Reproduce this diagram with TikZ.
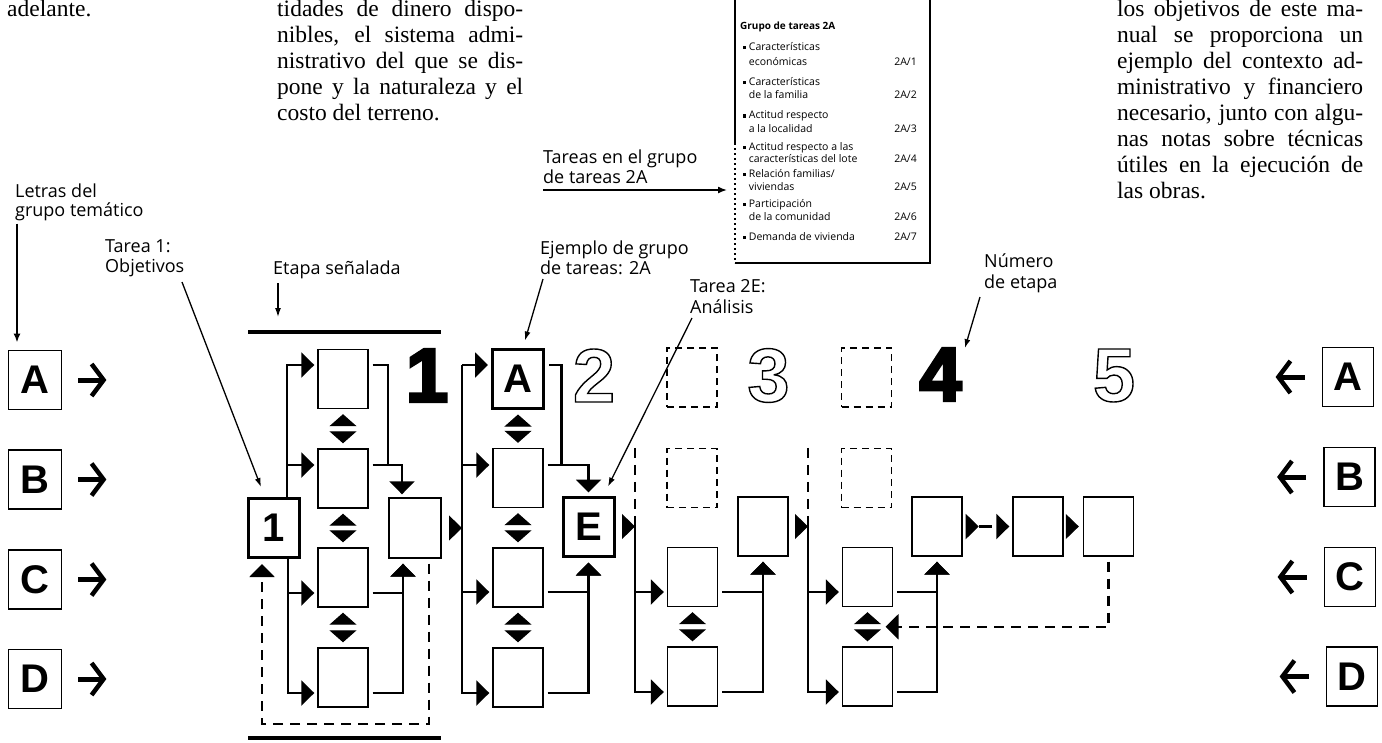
\documentclass[tikz,border=0pt]{standalone}
\usepackage{fontspec}
\setmainfont{Liberation Serif}
\setsansfont{Open Sans}
\newfontfamily\lsans{Liberation Sans}
\usetikzlibrary{arrows.meta,calc}
\newcommand\heavytxt[1]{\special{pdf:literal direct 2 Tr 3 w}#1\special{pdf:literal direct 0 Tr}}
\newcommand\hollowtxt[1]{\special{pdf:literal direct 1 Tr 1.4 w}#1\special{pdf:literal direct 0 Tr}}
\newcommand\jl[1]{\hbox to 246pt{#1}}
\newcommand\bul{\rule[1pt]{3.2pt}{3.2pt}\hspace{2.5pt}}
\begin{document}
\begin{tikzpicture}[x=1pt,y=-1pt,
  body/.style={inner sep=0pt, anchor=base west, font=\fontsize{23.5}{26}\selectfont},
  lbl/.style={inner sep=0pt, anchor=base west, font=\sffamily\fontsize{18}{20}\selectfont},
  ins/.style={inner sep=0pt, anchor=base west, font=\sffamily\fontsize{10.5}{12}\selectfont},
  insnum/.style={ins, anchor=base east},
  cbox/.style={draw, line width=1.4pt, minimum width=50pt, minimum height=59pt, inner sep=0pt, font=\lsans\bfseries\fontsize{40}{40}\selectfont},
  tbox/.style={cbox, line width=3pt, minimum width=51pt},
  dbox/.style={cbox, line width=1.5pt, dash pattern=on 7pt off 5pt},
  lbox/.style={cbox, line width=1.8pt, minimum width=53pt},
  conn/.style={line width=2.2pt},
  dconn/.style={line width=2.2pt, dash pattern=on 10pt off 7pt},
  tri/.tip={Triangle[length=13pt,width=25pt]},
  arrowonly/.style={draw=white, line width=1pt, -{Triangle[length=13pt,width=25pt,color=black,fill=black]}},
  dbl/.style={draw=white, line width=1pt, {Triangle[length=12pt,width=27pt,color=black,fill=black]}-{Triangle[length=12pt,width=27pt,color=black,fill=black]}, shorten <=5pt, shorten >=5pt},
  leader/.style={line width=1.3pt, -{Latex[length=9pt,width=6pt]}},
  letarr/.style={line width=5pt, line cap=butt, -{Straight Barb[length=12pt,width=32pt,line width=4.5pt]}},
  bignum/.style={inner sep=0pt, font=\lsans\bfseries\fontsize{76}{76}\selectfont}
]
\fill[white] (0,0) rectangle (1382,742);
\useasboundingbox (0,0) rectangle (1382,742);

% ---------- body text ----------
\node[body] (p0) at (7,16) {adelante.};
\node[body] (p1) at (277,16) {\parbox[t]{246pt}{\fontsize{23.5}{26}\selectfont
\jl{tidades de dinero dispo-}
\jl{nibles, el sistema admi-}
\jl{nistrativo del que se dis-}
\jl{pone y la naturaleza y el}
\hbox{costo del terreno.}}};
\node[body] (p2) at (1117,16) {\parbox[t]{246pt}{\fontsize{23.5}{26}\selectfont
\jl{los objetivos de este ma-}
\jl{nual se proporciona un}
\jl{ejemplo del contexto ad-}
\jl{ministrativo y financiero}
\jl{necesario, junto con algu-}
\jl{nas notas sobre técnicas}
\jl{útiles en la ejecución de}
\hbox{las obras.}}};

% ---------- inset ----------
\draw[line width=1.2pt] (735,0) -- (735,143);
\draw[line width=1.2pt, dash pattern=on 2pt off 3pt] (735,143) -- (735,263);
\draw[line width=1.2pt] (735,263) -- (930,263) -- (930,0);
\node[ins, font=\sffamily\bfseries\fontsize{10}{12}\selectfont] (i0) at (740,29) {Grupo de tareas 2A};
\node[ins] (i1a) at (743,50) {\bul Características};
\node[ins] (i1b) at (748.7,65) {económicas};
\node[insnum] (i1n) at (917,65) {2A/1};
\node[ins] (i2a) at (743,85) {\bul Características};
\node[ins] (i2b) at (748.7,98.5) {de la familia};
\node[insnum] (i2n) at (917,98.5) {2A/2};
\node[ins] (i3a) at (743,118.5) {\bul Actitud respecto};
\node[ins] (i3b) at (748.7,132) {a la localidad};
\node[insnum] (i3n) at (917,132) {2A/3};
\node[ins] (i4a) at (743,150) {\bul Actitud respecto a las};
\node[ins] (i4b) at (748.7,162) {características del lote};
\node[insnum] (i4n) at (917,162) {2A/4};
\node[ins] (i5a) at (743,177) {\bul Relación familias/};
\node[ins] (i5b) at (748.7,190) {viviendas};
\node[insnum] (i5n) at (917,190) {2A/5};
\node[ins] (i6a) at (743,207) {\bul Participación};
\node[ins] (i6b) at (748.7,220) {de la comunidad};
\node[insnum] (i6n) at (917,220) {2A/6};
\node[ins] (i7a) at (743,240) {\bul Demanda de vivienda};
\node[insnum] (i7n) at (917,240) {2A/7};

% ---------- letter boxes ----------
\node[lbox] (LA) at (35,380) {A};
\node[lbox] (LB) at (35,479.5) {B};
\node[lbox] (LC) at (35,579.5) {C};
\node[lbox] (LD) at (35,679) {D};
\foreach \n in {LA,LB,LC,LD} \draw[letarr] ([xshift=16pt]\n.east) -- ++(28,0);
\node[lbox, minimum width=51pt] (RA) at (1348,377) {A};
\node[lbox, minimum width=51pt] (RB) at (1349.5,477) {B};
\node[lbox, minimum width=51pt] (RC) at (1350,577) {C};
\node[lbox, minimum width=51pt] (RD) at (1352,676.5) {D};
\foreach \n in {RA,RB,RC,RD} \draw[letarr] ([xshift=-17pt]\n.west) -- ++(-29,0);

% ---------- stage 1 ----------
\draw[line width=4pt] (248,332) -- (441,332);
\draw[line width=4pt] (248,738) -- (441,738);
\node[tbox] (s1in) at (274,528) {1};
\node[cbox] (s1a) at (343,379) {};
\node[cbox] (s1b) at (343,478.5) {};
\node[cbox] (s1c) at (343,577.5) {};
\node[cbox] (s1d) at (343,677.5) {};
\node[cbox, minimum width=52pt, minimum height=60pt] (s1out) at (415,528) {};
\coordinate (s1aL) at ([yshift=14pt]s1a.west);  \coordinate (s1aR) at ([yshift=14pt]s1a.east);
\coordinate (s1bL) at ([yshift=13.5pt]s1b.west); \coordinate (s1bR) at ([yshift=13.5pt]s1b.east);
\coordinate (s1cL) at ([yshift=-15.5pt]s1c.west); \coordinate (s1cR) at ([yshift=-15.5pt]s1c.east);
\coordinate (s1dL) at ([yshift=-15.5pt]s1d.west); \coordinate (s1dR) at ([yshift=-15.5pt]s1d.east);
\coordinate (bus1) at ([xshift=13pt]s1in.north);
\coordinate (bus1s) at ([xshift=14pt]s1in.south);
\draw[conn,-{tri},shorten >=3pt] (bus1) |- (s1aL);
\draw[conn,-{tri},shorten >=3pt] (bus1) |- (s1bL);
\draw[conn,-{tri},shorten >=3pt] (bus1s) |- (s1cL);
\draw[conn,-{tri},shorten >=3pt] (bus1s) |- (s1dL);
\coordinate (j1) at ($(s1bR)+(19pt,0pt)$);
\draw[conn,shorten <=4pt] (s1aR) -| (j1);
\draw[conn,-{tri},shorten <=4pt,shorten >=3pt] (s1bR) -| ([xshift=-13pt]s1out.north);
\draw[conn,-{tri},shorten <=4pt,shorten >=5pt] (s1cR) -| ([xshift=-12pt]s1out.south);
\draw[conn,-{tri},shorten <=4pt,shorten >=5pt] (s1dR) -| ([xshift=-12pt]s1out.south);
\draw[dconn,-{tri},shorten <=5pt,shorten >=5pt] ([xshift=14pt]s1out.south) -- ++(0,165) -| ([xshift=-12pt]s1in.south);
\draw[dbl] (s1a.south) -- (s1b.north);
\draw[dbl] (s1b.south) -- (s1c.north);
\draw[dbl] (s1c.south) -- (s1d.north);
\node[bignum] (n1) at (427,375.5) {\heavytxt{1}};

% ---------- stage 2 ----------
\coordinate (bus2x) at (462,0);
\node[tbox] (s2a) at (518,378.5) {A};
\node[cbox] (s2b) at (518,478) {};
\node[cbox] (s2c) at (518,577.5) {};
\node[cbox] (s2d) at (518,677.5) {};
\node[tbox] (s2e) at (588.5,526.5) {E};
\coordinate (s2aL) at ([yshift=13.5pt]s2a.west);  \coordinate (s2aR) at ([yshift=13.5pt]s2a.east);
\coordinate (s2bL) at ([yshift=13pt]s2b.west);    \coordinate (s2bR) at ([yshift=13pt]s2b.east);
\coordinate (s2cL) at ([yshift=-14.5pt]s2c.west); \coordinate (s2cR) at ([yshift=-14.5pt]s2c.east);
\coordinate (s2dL) at ([yshift=-15.5pt]s2d.west); \coordinate (s2dR) at ([yshift=-15.5pt]s2d.east);
\draw[conn,-{tri},shorten >=3pt] (s2aL -| bus2x) -- (s2aL);
\draw[conn,-{tri},shorten >=3pt] (s2aL -| bus2x) |- (s2dL);
\draw[conn,-{tri},shorten >=3pt] (s2bL -| bus2x) -- (s2bL);
\draw[conn,-{tri},shorten >=3pt] (s2cL -| bus2x) -- (s2cL);
\draw[arrowonly,shorten <=4pt] (s1out.east) -- (s1out.east -| bus2x);
\draw[conn,shorten <=4pt] (s2aR) -| (s2e.west |- s2bR);
\draw[conn,-{tri},shorten <=4pt,shorten >=3pt] (s2bR) -| (s2e.north);
\draw[conn,-{tri},shorten <=4pt,shorten >=5pt] (s2cR) -| (s2e.south);
\draw[conn,-{tri},shorten <=4pt,shorten >=5pt] (s2dR) -| (s2e.south);
\draw[dbl] (s2a.south) -- (s2b.north);
\draw[dbl] (s2b.south) -- (s2c.north);
\draw[dbl] (s2c.south) -- (s2d.north);
\node[bignum] (n2) at (594,375.5) {\hollowtxt{2}};

% ---------- stage 3 ----------
\coordinate (bus3x) at (635,0);
\node[dbox] (s3x) at (692,377.5) {};
\node[dbox] (s3y) at (692,478) {};
\node[cbox] (s3c) at (692.5,577) {};
\node[cbox] (s3d) at (692.5,676.5) {};
\node[cbox] (s3out) at (763,526.5) {};
\coordinate (s3cL) at ([yshift=-15pt]s3c.west);   \coordinate (s3cR) at ([yshift=-15pt]s3c.east);
\coordinate (s3dL) at ([yshift=-15.5pt]s3d.west); \coordinate (s3dR) at ([yshift=-15.5pt]s3d.east);
\coordinate (b3t) at (bus3x |- s3y.north);
\coordinate (b3m) at (635,520);
\draw[arrowonly,shorten <=4pt] (s2e.east) -- (s2e.east -| bus3x);
\draw[dconn] (b3t) -- (b3m);
\draw[conn,-{tri},shorten >=3pt] (b3m) |- (s3dL);
\draw[conn,-{tri},shorten >=3pt] (s3cL -| bus3x) -- (s3cL);
\draw[conn,-{tri},shorten <=4pt,shorten >=5pt] (s3cR) -| (s3out.south);
\draw[conn,-{tri},shorten <=4pt,shorten >=5pt] (s3dR) -| (s3out.south);
\draw[dbl] (s3c.south) -- (s3d.north);
\node[bignum] (n3) at (768.5,375.5) {\hollowtxt{3}};

% ---------- stage 4 ----------
\coordinate (bus4x) at (808,0);
\node[dbox] (s4x) at (866.5,377.5) {};
\node[dbox] (s4y) at (866.5,478) {};
\node[cbox] (s4c) at (867.5,577) {};
\node[cbox] (s4d) at (867.5,676.5) {};
\node[cbox] (s4out) at (937,526.5) {};
\coordinate (s4cL) at ([yshift=-15pt]s4c.west);   \coordinate (s4cR) at ([yshift=-15pt]s4c.east);
\coordinate (s4dL) at ([yshift=-15.5pt]s4d.west); \coordinate (s4dR) at ([yshift=-15.5pt]s4d.east);
\coordinate (b4t) at (bus4x |- s4y.north);
\coordinate (b4m) at (808,520);
\draw[arrowonly,shorten <=4pt] (s3out.east) -- (s3out.east -| bus4x);
\draw[dconn] (b4t) -- (b4m);
\draw[conn,-{tri},shorten >=3pt] (b4m) |- (s4dL);
\draw[conn,-{tri},shorten >=3pt] (s4cL -| bus4x) -- (s4cL);
\draw[conn,-{tri},shorten <=4pt,shorten >=5pt] (s4cR) -| (s4out.south);
\draw[conn,-{tri},shorten <=4pt,shorten >=5pt] (s4dR) -| (s4out.south);
\draw[dbl] (s4c.south) -- (s4d.north);
\node[bignum] (n4) at (940.5,374.5) {\heavytxt{4}};

% ---------- stage 5 ----------
\node[cbox] (s5a) at (1038,526.5) {};
\node[cbox] (s5b) at (1108.5,526.5) {};
\draw[line width=2.2pt, dash pattern=on 0pt off 2pt on 13pt off 20pt, {Triangle[reversed,length=13pt,width=25pt]}-{tri}, shorten <=3pt, shorten >=3pt] (s4out.east) -- (s5a.west);
\draw[arrowonly,shorten <=4pt,shorten >=4pt] (s5a.east) -- (s5b.west);
\coordinate (fb) at ($(s4c.south)!0.5!(s4d.north)$);
\draw[dconn,-{tri},shorten <=5pt,shorten >=18pt] (s5b.south) |- (fb);
\node[bignum] (n5) at (1114,375.5) {\hollowtxt{5}};

% ---------- labels ----------
\node[lbl] (let1) at (15,197) {Letras del};
\node[lbl] (let2) at (15,216) {grupo temático};
\draw[line width=2pt, -{Latex[length=9pt,width=7pt]}] ([shift={(2pt,-3pt)}]let2.south west) -- ([shift={(-18pt,7pt)}]LA.north);
\node[lbl] (t1a) at (105,252) {Tarea 1:};
\node[lbl] (t1b) at (105,272) {Objetivos};
\coordinate (t1s) at (182,282);
\draw[leader] (t1s) -- ([shift={(14pt,10pt)}]s1in.north west);
\node[lbl] (et) at (273,274) {Etapa señalada};
\draw[leader] ([shift={(5pt,-9pt)}]et.base west) -- ++(0,34);
\node[lbl] (ej1) at (540,254) {Ejemplo de grupo};
\node[lbl] (ej2) at (540,274) {de tareas: 2A};
\draw[leader] ([shift={(3pt,-5pt)}]ej2.base west) -- ([shift={(34pt,7pt)}]s2a.north west);
\node[lbl] (te1) at (690,292) {Tarea 2E:};
\node[lbl] (te2) at (690,313) {Análisis};
\draw[leader] ([shift={(2pt,-5pt)}]te2.base west) -- ([shift={(19.5pt,9pt)}]s2e.north);
\node[lbl] (ne1) at (984,267) {Número};
\node[lbl] (ne2) at (984,288) {de etapa};
\draw[leader] ([shift={(-4pt,-9pt)}]ne2.base west) -- ([xshift=3pt]n4.north east);
\node[lbl] (tg1) at (543,163) {Tareas en el grupo};
\node[lbl] (tg2) at (543,183) {de tareas 2A};
\coordinate (tgT) at (727,190);
\draw[line width=1.5pt, -{Latex[length=9pt,width=7pt]}] ([yshift=-7pt]tg2.base west) -- (tgT);
\end{tikzpicture}
\end{document}
